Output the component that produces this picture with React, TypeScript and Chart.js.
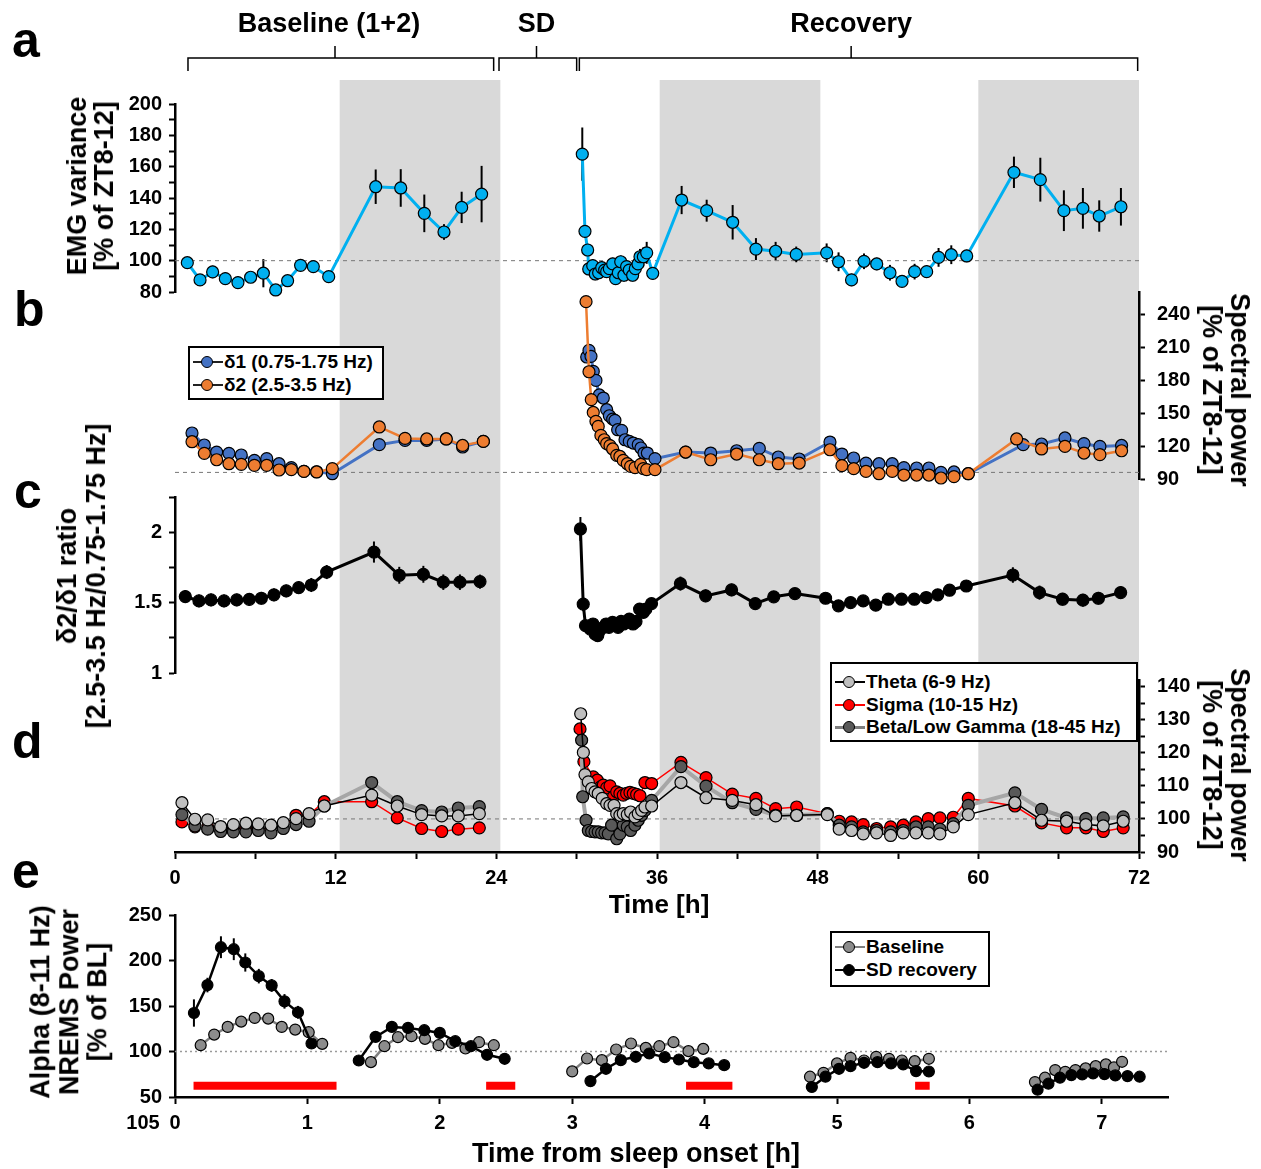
import React, { useEffect, useRef } from "react";
import { Chart, registerables } from "chart.js";

Chart.register(...registerables);

const FONT = '"Liberation Sans", Arial, Helvetica, sans-serif';
const W = 1261;

/* ======================= DATA ======================= */
// shaded dark phases (h) and phase brackets
const darkPhases = [[12.3, 24.3], [36.2, 48.2], [60, 72]];
const phaseLabels = ["Baseline (1+2)", "SD", "Recovery"];
const phaseSpans = [[0.97, 23.8, 11.95, 11.5], [24.2, 30.0, 27.0, 27.0], [30.2, 71.9, 50.5, 50.5]];

// a: EMG variance [t, value, sem]
const emgBaseline = [[0.92,98.7,3],[1.87,87.7,3],[2.81,92.8,4],[3.76,88.5,4],[4.70,86.0,4],[5.65,89.4,3],[6.60,92.0,9],[7.52,81.3,2],[8.41,87.2,3],[9.38,97.0,2],[10.33,96.2,3],[11.48,89.8,3],[14.99,147.2,11],[16.86,146.4,12],[18.62,130.2,12],[20.09,118.3,5],[21.41,134.0,10],[22.90,142.5,18]];
const emgRecovery = [[30.42,168.0,17],[30.62,118.7,4],[30.82,106.8,4],[30.90,94.7,4],[31.20,96.8,4],[31.39,91.5,4],[31.64,92.3,4],[31.87,95.5,4],[32.09,94.0,4],[32.24,93.0,4],[32.44,94.9,4],[32.69,97.9,4],[32.91,88.5,4],[33.11,92.3,4],[33.29,99.3,4],[33.53,90.7,4],[33.73,96.2,4],[33.93,94.0,4],[34.18,90.7,4],[34.38,94.9,4],[34.58,97.9,4],[34.73,102.5,5],[34.98,102.5,6],[35.23,105.0,7],[35.68,91.9,4],[37.84,138.7,9],[39.71,131.9,7],[41.65,124.5,11],[43.39,107.4,7],[44.86,106.0,6],[46.40,104.0,5],[48.67,105.0,6],[49.56,99.3,6],[50.53,87.7,4],[51.46,99.6,5],[52.41,97.9,4],[53.40,92.3,5],[54.30,86.8,3],[55.24,93.0,5],[56.14,93.0,4],[57.03,102.1,6],[57.98,103.8,6],[59.13,103.0,4],[62.66,156.4,10],[64.63,151.7,14],[66.39,131.9,13],[67.81,133.4,13],[69.03,128.5,10],[70.65,134.4,12]];

// b: delta power [t, value]
const delta1Baseline = [[1.27,131.8],[2.19,120.9],[3.11,114.5],[4.03,113.3],[4.95,111.8],[5.93,106.9],[6.85,108.5],[7.77,103.9],[8.69,100.3],[9.63,96.9],[10.58,96.6],[11.75,94.8],[15.26,121.2],[17.18,125.1],[18.80,125.1],[20.26,126.4],[21.48,119.1],[23.03,124.2]];
const delta1Recovery = [[30.75,200.9],[30.92,206.9],[31.07,201.5],[31.24,187.8],[31.44,179.6],[31.69,166.4],[31.99,163.6],[32.24,153.0],[32.44,147.5],[32.69,144.5],[32.86,143.3],[33.06,134.8],[33.36,134.2],[33.61,125.7],[33.93,124.2],[34.23,122.7],[34.60,121.2],[34.80,118.2],[35.03,113.6],[35.28,113.6],[35.85,108.5],[38.14,114.5],[40.01,113.6],[41.95,115.7],[43.64,117.8],[45.06,110.0],[46.62,108.2],[48.92,123.6],[49.81,112.7],[50.69,109.1],[51.61,104.5],[52.58,103.9],[53.57,103.9],[54.44,100.3],[55.39,100.0],[56.31,100.0],[57.21,96.0],[58.18,96.4],[59.25,94.8],[63.35,121.2],[64.72,121.8],[66.47,127.3],[67.89,122.1],[69.08,119.6],[70.70,120.5]];
const delta2Baseline = [[1.27,123.9],[2.19,113.3],[3.11,107.5],[4.03,103.9],[4.95,103.3],[5.93,102.4],[6.85,102.4],[7.77,98.2],[8.69,98.5],[9.63,96.9],[10.58,96.4],[11.75,99.4],[15.26,137.3],[17.18,126.9],[18.80,126.4],[20.26,126.4],[21.48,120.5],[23.03,124.2]];
const delta2Recovery = [[30.70,251.2],[30.92,187.5],[31.09,162.1],[31.24,150.5],[31.44,142.4],[31.61,137.8],[31.81,129.6],[32.06,125.7],[32.24,122.1],[32.49,120.3],[32.69,117.3],[32.99,111.5],[33.23,110.5],[33.48,106.9],[33.78,103.9],[34.03,101.5],[34.36,100.3],[34.78,103.3],[34.98,99.4],[35.23,98.5],[35.85,98.5],[38.14,114.5],[40.01,107.5],[41.95,112.7],[43.64,107.5],[45.06,103.9],[46.62,104.5],[48.92,116.6],[49.81,102.1],[50.69,99.4],[51.61,96.9],[52.58,94.8],[53.57,96.9],[54.44,93.6],[55.39,93.6],[56.31,93.6],[57.21,90.9],[58.18,92.1],[59.25,94.8],[62.86,126.4],[64.72,117.3],[66.47,119.6],[67.89,113.6],[69.08,112.1],[70.70,115.7]];
const deltaRefLevel = 96;

// c: delta2/delta1 ratio [t, value, sem]
const ratioBaseline = [[0.77,1.543,0.045],[1.79,1.512,0.045],[2.69,1.519,0.045],[3.66,1.512,0.045],[4.61,1.519,0.045],[5.55,1.523,0.045],[6.45,1.531,0.045],[7.39,1.555,0.045],[8.31,1.583,0.045],[9.24,1.606,0.045],[10.18,1.625,0.05],[11.33,1.717,0.05],[14.86,1.859,0.075],[16.75,1.694,0.06],[18.55,1.701,0.06],[20.04,1.645,0.055],[21.28,1.645,0.055],[22.78,1.649,0.05]];
const ratioRecovery = [[30.28,2.023,0.085],[30.49,1.489,0.05],[30.66,1.336,0.04],[31.02,1.312,0.04],[31.22,1.348,0.04],[31.38,1.277,0.04],[31.57,1.265,0.04],[31.71,1.300,0.04],[31.98,1.324,0.04],[32.20,1.348,0.04],[32.41,1.324,0.04],[32.68,1.359,0.04],[32.87,1.343,0.04],[33.09,1.324,0.04],[33.32,1.366,0.04],[33.51,1.348,0.04],[33.71,1.359,0.04],[33.93,1.383,0.04],[34.21,1.348,0.04],[34.43,1.366,0.04],[34.70,1.454,0.04],[34.98,1.430,0.04],[35.17,1.454,0.04],[35.59,1.493,0.04],[37.75,1.635,0.05],[39.63,1.548,0.045],[41.57,1.590,0.045],[43.34,1.493,0.04],[44.72,1.541,0.04],[46.30,1.564,0.04],[48.59,1.531,0.04],[49.55,1.477,0.04],[50.46,1.500,0.04],[51.40,1.512,0.04],[52.34,1.482,0.04],[53.28,1.524,0.04],[54.26,1.524,0.04],[55.22,1.524,0.04],[56.11,1.536,0.04],[56.97,1.555,0.04],[57.85,1.588,0.04],[59.10,1.618,0.04],[62.58,1.696,0.055],[64.57,1.571,0.05],[66.29,1.524,0.045],[67.81,1.517,0.045],[68.97,1.531,0.045],[70.63,1.571,0.045]];

// d: theta / sigma / beta baseline
const bandBaselineT = [0.52,1.49,2.44,3.41,4.36,5.30,6.22,7.17,8.09,9.04,10.01,11.15,14.69,16.60,18.42,19.92,21.16,22.73];
const thetaBaselineV = [104.9,99.9,99.7,97.7,98.3,98.7,98.5,98.1,98.9,100.1,101.6,103.9,107.2,103.9,101.3,100.9,100.9,101.6];
const sigmaBaselineV = [99.1,97.6,97.6,97.1,97.1,97.1,97.1,96.5,97.6,101.1,101.3,105.2,105.2,100.3,97.1,96.2,96.9,97.3];
const betaBaselineV = [101.3,97.9,96.9,96.2,96.1,96.1,96.5,95.8,97.1,98.3,99.3,103.9,111.0,105.2,102.5,102.1,103.3,103.7];
// d: recovery [t, value]
const thetaRecovery = [[30.30,131.8],[30.50,120.1],[30.62,113.4],[30.87,111.2],[31.12,109.2],[31.37,108.2],[31.61,107.7],[31.91,106.2],[32.24,104.6],[32.49,104.1],[32.79,104.1],[32.99,101.6],[33.23,101.1],[33.48,101.6],[33.78,101.3],[34.03,102.1],[34.35,100.6],[34.60,101.6],[34.85,102.6],[35.10,103.6],[35.60,103.9],[37.79,111.0],[39.66,106.4],[41.62,105.6],[43.39,104.3],[44.86,100.9],[46.43,101.1],[48.72,101.3],[49.61,96.9],[50.53,96.5],[51.40,95.5],[52.40,95.8],[53.45,95.0],[54.39,95.8],[55.34,95.8],[56.26,95.8],[57.13,95.5],[58.13,97.6],[59.25,101.3],[62.73,104.9],[64.72,99.6],[66.59,99.3],[68.03,98.3],[69.33,97.9],[70.82,99.3]];
const sigmaRecovery = [[30.25,127.2],[30.54,117.3],[31.24,112.7],[31.54,111.7],[31.79,109.7],[31.99,110.2],[32.24,109.4],[32.49,110.0],[32.74,106.7],[32.99,108.2],[33.23,107.7],[33.48,107.2],[33.73,107.7],[33.98,108.0],[34.23,107.7],[34.48,107.4],[34.73,107.0],[35.10,111.0],[35.60,110.7],[37.79,117.1],[39.66,112.5],[41.62,107.5],[43.39,106.2],[44.86,103.1],[46.43,103.6],[48.72,101.6],[49.61,99.3],[50.53,99.1],[51.40,98.3],[52.40,97.1],[53.45,97.6],[54.39,98.1],[55.34,99.1],[56.26,100.1],[57.13,100.3],[58.13,100.5],[59.25,106.2],[62.73,103.9],[64.72,98.8],[66.59,97.3],[68.03,97.3],[69.33,96.2],[70.82,97.3]];
const betaRecovery = [[30.37,123.8],[30.45,106.7],[30.70,99.6],[30.87,96.5],[31.12,96.2],[31.37,96.1],[31.61,96.1],[31.86,95.8],[32.11,95.8],[32.36,95.5],[32.61,98.1],[32.99,94.0],[33.23,95.5],[33.48,98.1],[33.78,97.6],[34.03,96.5],[34.35,98.1],[34.60,99.6],[34.85,101.1],[35.10,102.6],[35.60,105.6],[37.79,115.8],[39.66,109.9],[41.62,104.9],[43.39,102.9],[44.86,101.1],[46.43,101.1],[48.72,101.6],[49.61,98.1],[50.53,97.6],[51.40,96.1],[52.40,96.5],[53.45,96.1],[54.39,96.5],[55.34,97.6],[56.26,97.6],[57.13,96.9],[58.13,98.6],[59.25,104.1],[62.73,107.9],[64.72,102.9],[66.59,100.3],[68.03,100.1],[69.33,100.3],[70.82,100.6]];

// e: alpha NREMS power, per-hour segments [t, value, sem]
const alphaSD = [
  [[0.143,142.3,15],[0.245,173.0,8],[0.347,214.6,12],[0.444,212.4,12],[0.531,197.8,10],[0.633,182.8,8],[0.730,172.6,7],[0.827,155.1,8],[0.929,143.1,7],[1.031,108.8,4]],
  [[1.388,90.1,2],[1.515,116.1,3],[1.638,127.0,3],[1.760,125.9,3],[1.883,123.4,3],[2.000,120.4,3],[2.117,111.3,3],[2.235,105.8,3],[2.357,96.4,3],[2.490,92.0,3]],
  [[3.138,67.5,2],[3.255,81.0,2],[3.367,90.5,2],[3.480,94.2,2],[3.582,97.8,2],[3.699,93.8,2],[3.806,91.2,2],[3.918,88.3,2],[4.031,86.9,2],[4.148,85.0,2]],
  [[4.810,61.0,2],[4.913,72.3,2],[5.015,81.0,2],[5.102,83.9,2],[5.204,87.6,2],[5.306,88.3,2],[5.408,86.9,2],[5.500,85.8,2],[5.597,78.5,2],[5.694,78.0,2]],
  [[6.515,58.0,2],[6.597,64.6,2],[6.684,71.2,2],[6.770,74.1,2],[6.852,74.8,2],[6.934,75.9,2],[7.020,75.2,2],[7.102,73.7,2],[7.194,73.0,2],[7.286,72.3,2]],
];
const alphaBaseline = [
  [[0.194,106.9,3],[0.296,118.6,2],[0.398,127.0,2],[0.500,132.8,2],[0.602,136.9,2],[0.704,136.1,2],[0.806,127.0,2],[0.908,124.1,2],[1.010,121.2,2],[1.112,108.4,2]],
  [[1.480,88.3],[1.582,105.8],[1.684,115.7],[1.786,116.8],[1.888,113.9],[1.990,106.9],[2.092,109.5],[2.194,103.3],[2.296,110.2],[2.408,106.9]],
  [[3.000,78.1],[3.112,92.3],[3.224,90.5],[3.332,102.2],[3.444,108.8],[3.556,104.0],[3.658,105.8],[3.765,110.2],[3.878,100.4],[3.990,102.9]],
  [[4.796,72.3],[4.898,76.6],[5.000,86.9],[5.102,93.1],[5.204,90.1],[5.296,94.2],[5.393,92.0],[5.490,90.1],[5.587,89.4],[5.694,92.0]],
  [[6.495,66.4],[6.571,71.2],[6.648,79.6],[6.724,77.7],[6.801,79.6],[6.878,81.4],[6.954,83.9],[7.031,85.8],[7.092,82.5],[7.153,88.7]],
];
const sigBars = [[0.14, 1.22], [2.35, 2.57], [3.86, 4.21], [5.59, 5.70]];
const sigBarLevel = 62.5;

/* ======================= HELPERS ======================= */
const pts = (rows: any[]) => rows.map((r: number[]) => ({ x: r[0], y: r[1], e: r[2] }));
const joinSegs = (segs: any[]) => {
  const out: any[] = [];
  segs.forEach((s: any[], i: number) => {
    if (i > 0) {
      const prev = segs[i - 1];
      out.push({ x: (prev[prev.length - 1][0] + s[0][0]) / 2, y: null });
    }
    out.push(...pts(s));
  });
  return out;
};
const zipT = (t: number[], v: number[]) => t.map((x, i) => [x, v[i]]);
const isMult = (v: number, m: number) => Math.abs(v / m - Math.round(v / m)) < 1e-6;
const tickFont = { family: FONT, size: 20, weight: "bold" as const };

const errorBars = {
  id: "errorBars",
  beforeDatasetsDraw(chart: any) {
    const { ctx } = chart;
    chart.data.datasets.forEach((ds: any) => {
      if (!ds.errorBars) return;
      const xs = chart.scales.x, ys = chart.scales.y;
      ctx.save();
      ctx.strokeStyle = "#000";
      ctx.lineWidth = 2;
      ds.data.forEach((p: any) => {
        if (p.y == null || !p.e) return;
        const px = xs.getPixelForValue(p.x);
        ctx.beginPath();
        ctx.moveTo(px, ys.getPixelForValue(p.y - p.e));
        ctx.lineTo(px, ys.getPixelForValue(p.y + p.e));
        ctx.stroke();
      });
      ctx.restore();
    });
  },
};

const background = {
  id: "background",
  beforeDraw(chart: any) {
    const { ctx } = chart;
    const x = chart.scales.x;
    ctx.save();
    ctx.fillStyle = "#d9d9d9";
    darkPhases.forEach(([a, b]) => {
      const x0 = x.getPixelForValue(a), x1 = x.getPixelForValue(b);
      ctx.fillRect(x0, 80, x1 - x0, 772);
    });
    ctx.strokeStyle = "#000";
    ctx.lineWidth = 1.5;
    ctx.fillStyle = "#000";
    ctx.font = `bold 27px ${FONT}`;
    ctx.textAlign = "center";
    ctx.textBaseline = "middle";
    phaseSpans.forEach(([a, b, m, l], i) => {
      const x0 = x.getPixelForValue(a), x1 = x.getPixelForValue(b), xm = x.getPixelForValue(m);
      ctx.beginPath();
      ctx.moveTo(x0, 71); ctx.lineTo(x0, 58); ctx.lineTo(x1, 58); ctx.lineTo(x1, 71);
      ctx.moveTo(xm, 58); ctx.lineTo(xm, 46);
      ctx.stroke();
      ctx.fillText(phaseLabels[i], x.getPixelForValue(l), 25);
    });
    ctx.restore();
  },
};

const baseOpts = (padding: any, scales: any) => ({
  animation: false,
  responsive: false,
  devicePixelRatio: 1,
  events: [],
  layout: { padding },
  plugins: { legend: { display: false }, tooltip: { enabled: false } },
  scales,
});

const yAxis = (min: number, max: number, step: number, labelEvery: number, position: string, pad: number) => ({
  type: "linear",
  position,
  min,
  max,
  afterFit: (s: any) => { s.width = position === "left" ? 175 : 122; },
  ticks: {
    stepSize: step, includeBounds: false, autoSkip: false, font: tickFont, color: "#000", padding: pad,
    callback: (v: number) => (isMult(v, labelEvery) ? String(v) : ""),
  },
  grid: { drawOnChartArea: false, drawTicks: true, tickLength: 6, tickColor: "#000", tickWidth: 2 },
  border: { display: true, color: "#000", width: 2.5 },
});

const xHidden = { type: "linear", min: 0, max: 72, display: false };
const xAxis = (max: number, step: number, labelEvery: number) => ({
  type: "linear",
  position: "bottom",
  min: 0,
  max,
  afterFit: (s: any) => { s.height = 40; },
  ticks: {
    stepSize: step, includeBounds: false, autoSkip: false, maxRotation: 0, font: tickFont, color: "#000", padding: 7,
    callback: (v: number) => (isMult(v, labelEvery) ? String(v) : ""),
  },
  grid: { drawOnChartArea: false, drawTicks: true, tickLength: 7, tickColor: "#000", tickWidth: 2 },
  border: { display: true, color: "#000", width: 2.5 },
});

const series = (data: any[], line: string, fill: string, lw: number, r = 6, extra: any = {}) => ({
  data, borderColor: line, borderWidth: lw, pointBackgroundColor: fill, pointBorderColor: "#000",
  pointBorderWidth: 1.2, pointRadius: r, pointHoverRadius: r, tension: 0, clip: false, spanGaps: false, ...extra,
});
const refLine = (y: number, x1: number, color: string, dash: number[], w = 1) => ({
  data: [{ x: 0, y }, { x: x1, y }], borderColor: color, borderDash: dash, borderWidth: w, pointRadius: 0, clip: false,
});

const M = 30; // canvas margin around plot areas

/* ======================= CHART CONFIGS ======================= */
const cfgBackground = () => ({
  type: "line",
  data: { datasets: [] },
  options: baseOpts({ left: 175, right: 122, top: 0, bottom: 0 }, { x: xHidden, y: { display: false, min: 0, max: 1 } }),
  plugins: [background],
});

const cfgA = () => ({
  type: "line",
  data: {
    datasets: [
      series(joinSegs([emgBaseline, emgRecovery]), "#00b0f0", "#00b0f0", 3, 6, { errorBars: true }),
      refLine(100, 72, "#777", [4, 4]),
    ],
  },
  options: baseOpts({ left: 0, right: 122, top: 24, bottom: M }, { x: xHidden, y: yAxis(80, 200, 10, 20, "left", 7) }),
  plugins: [errorBars],
});

const cfgB = () => ({
  type: "line",
  data: {
    datasets: [
      series(joinSegs([delta2Baseline, delta2Recovery]), "#ed7d31", "#ed7d31", 2.5),
      series(joinSegs([delta1Baseline, delta1Recovery]), "#4472c4", "#4472c4", 3),
      refLine(deltaRefLevel, 72, "#777", [4, 4]),
    ],
  },
  options: baseOpts({ left: 175, right: 0, top: M, bottom: M }, { x: xHidden, y: yAxis(90, 260, 30, 30, "right", 12) }),
});

const cfgC = () => ({
  type: "line",
  data: { datasets: [series(joinSegs([ratioBaseline, ratioRecovery]), "#000", "#000", 3, 6, { errorBars: true })] },
  options: baseOpts({ left: 0, right: 122, top: M, bottom: M }, { x: xHidden, y: yAxis(1, 2.25, 0.25, 0.5, "left", 7) }),
  plugins: [errorBars],
});

const cfgD = () => ({
  type: "line",
  data: {
    datasets: [
      series(joinSegs([zipT(bandBaselineT, thetaBaselineV), thetaRecovery]), "#000", "#bfbfbf", 1.5),
      series(joinSegs([zipT(bandBaselineT, betaBaselineV), betaRecovery]), "#a6a6a6", "#595959", 4),
      series(joinSegs([zipT(bandBaselineT, sigmaBaselineV), sigmaRecovery]), "#ff0000", "#ff0000", 1.5),
      refLine(100, 72, "#777", [4, 4]),
    ],
  },
  options: baseOpts({ left: 175, right: 0, top: M, bottom: 0 }, { x: xAxis(72, 6, 12), y: yAxis(90, 142, 5, 10, "right", 12) }),
});

const cfgE = () => {
  const bars: any[] = [];
  sigBars.forEach(([a, b], i) => {
    if (i > 0) bars.push({ x: (sigBars[i - 1][1] + a) / 2, y: null });
    bars.push({ x: a, y: sigBarLevel }, { x: b, y: sigBarLevel });
  });
  return {
    type: "line",
    data: {
      datasets: [
        series(joinSegs(alphaSD), "#000", "#000", 2.5, 5.5, { errorBars: true }),
        series(joinSegs(alphaBaseline), "#7f7f7f", "#8c8c8c", 2.5, 5.5, { errorBars: true }),
        { data: bars, borderColor: "#ff0000", borderWidth: 8, borderCapStyle: "butt", pointRadius: 0, spanGaps: false, clip: false },
        refLine(100, 7.5, "#9a9a9a", [2, 3], 1.5),
      ],
    },
    options: baseOpts({ left: 0, right: 93, top: M, bottom: 0 }, { x: xAxis(7.5, 1, 1), y: yAxis(50, 250, 50, 50, "left", 7) }),
    plugins: [errorBars],
  };
};

/* ======================= COMPONENTS ======================= */
function ChartCanvas({ top, height, build }: any) {
  const ref = useRef<HTMLCanvasElement>(null);
  useEffect(() => {
    const c = new Chart(ref.current as HTMLCanvasElement, build());
    return () => c.destroy();
  }, []);
  return <canvas ref={ref} width={W} height={height} style={{ position: "absolute", left: 0, top, width: W, height }} />;
}

function RotText({ cx, cy, lines, rot, lh = 28, size = 27 }: any) {
  return (
    <div
      style={{
        position: "absolute", left: cx, top: cy, transform: `translate(-50%, -50%) rotate(${rot}deg)`,
        fontFamily: FONT, fontWeight: "bold", fontSize: size, lineHeight: `${lh}px`, textAlign: "center", whiteSpace: "nowrap",
      }}
    >
      {lines.map((l: string) => <div key={l}>{l}</div>)}
    </div>
  );
}

function CText({ cx, cy, text, size }: any) {
  return (
    <div style={{ position: "absolute", left: cx, top: cy, transform: "translate(-50%, -50%)", fontFamily: FONT, fontWeight: "bold", fontSize: size, whiteSpace: "nowrap", lineHeight: 1.2 }}>
      {text}
    </div>
  );
}

function Letter({ ch, left, baseline }: any) {
  return (
    <div style={{ position: "absolute", left, top: baseline - 42, fontFamily: FONT, fontWeight: "bold", fontSize: 50, lineHeight: "50px" }}>{ch}</div>
  );
}

function Sym({ line, fill, lw = 2 }: any) {
  return (
    <span style={{ position: "relative", display: "inline-block", width: 30, height: 14, marginRight: 1, flex: "none" }}>
      <span style={{ position: "absolute", left: 0, right: 0, top: 7 - lw / 2, height: lw, background: line }} />
      <span style={{ position: "absolute", left: 8, top: 1, width: 10, height: 10, borderRadius: "50%", background: fill, border: "1.5px solid #000" }} />
    </span>
  );
}

function Legend({ left, top, width, height, padTop, rowH, items }: any) {
  return (
    <div
      style={{
        position: "absolute", left, top, width, height, boxSizing: "border-box", border: "2px solid #000", background: "#fff",
        paddingTop: padTop, paddingLeft: 3, fontFamily: FONT, fontWeight: "bold", fontSize: 19,
      }}
    >
      {items.map((it: any) => (
        <div key={it.label} style={{ display: "flex", alignItems: "center", height: rowH, whiteSpace: "nowrap" }}>
          <Sym line={it.line} fill={it.fill} lw={it.lw} />
          <span>{it.label}</span>
        </div>
      ))}
    </div>
  );
}

export default function App() {
  return (
    <div style={{ position: "absolute", left: 0, top: 0, width: W, height: 1169, background: "#fff", overflow: "hidden" }}>
      <ChartCanvas top={0} height={900} build={cfgBackground} />
      <ChartCanvas top={80} height={188 + 24 + M} build={cfgA} />
      <ChartCanvas top={292 - M} height={187 + 2 * M} build={cfgB} />
      <ChartCanvas top={497 - M} height={176 + 2 * M} build={cfgC} />
      <ChartCanvas top={680 - M} height={172 + M + 40} build={cfgD} />
      <ChartCanvas top={915 - M} height={182 + M + 40} build={cfgE} />

      <Letter ch="a" left={12} baseline={57} />
      <Letter ch="b" left={14} baseline={326} />
      <Letter ch="c" left={14} baseline={508} />
      <Letter ch="d" left={12} baseline={758} />
      <Letter ch="e" left={12} baseline={888} />

      <RotText cx={91} cy={186} rot={-90} lh={27} lines={["EMG variance", "[% of ZT8-12]"]} />
      <RotText cx={1226} cy={390} rot={90} lh={28} lines={["Spectral power", "[% of ZT8-12]"]} />
      <RotText cx={82} cy={576} rot={-90} lh={29} lines={["δ2/δ1 ratio", "[2.5-3.5 Hz/0.75-1.75 Hz]"]} />
      <RotText cx={1226} cy={765} rot={90} lh={28} lines={["Spectral power", "[% of ZT8-12]"]} />
      <RotText cx={69} cy={1002} rot={-90} lh={28.5} lines={["Alpha (8-11 Hz)", "NREMS Power", "[% of BL]"]} />

      <CText cx={659} cy={905} text="Time [h]" size={26} />
      <CText cx={636} cy={1153} text="Time from sleep onset [h]" size={27} />
      <CText cx={143} cy={1122} text="105" size={20} />

      <Legend
        left={188} top={346} width={196} height={54} padTop={2.5} rowH={23}
        items={[
          { label: "δ1 (0.75-1.75 Hz)", line: "#222", fill: "#4472c4" },
          { label: "δ2 (2.5-3.5 Hz)", line: "#222", fill: "#ed7d31" },
        ]}
      />
      <Legend
        left={830} top={662} width={308} height={80} padTop={6.75} rowH={22.5}
        items={[
          { label: "Theta (6-9 Hz)", line: "#000", fill: "#bfbfbf" },
          { label: "Sigma (10-15 Hz)", line: "#ff0000", fill: "#ff0000" },
          { label: "Beta/Low Gamma (18-45 Hz)", line: "#7f7f7f", fill: "#595959", lw: 3 },
        ]}
      />
      <Legend
        left={830} top={931} width={160} height={56} padTop={2.5} rowH={23}
        items={[
          { label: "Baseline", line: "#7f7f7f", fill: "#8c8c8c" },
          { label: "SD recovery", line: "#000", fill: "#000" },
        ]}
      />
    </div>
  );
}
